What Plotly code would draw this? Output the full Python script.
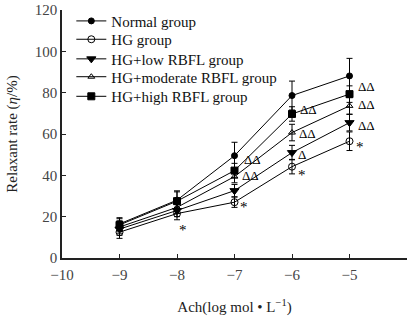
import plotly.graph_objects as go

x_vals = [-9, -8, -7, -6, -5]
series_names = ["Normal group", "HG group", "HG+low RBFL group", "HG+moderate RBFL group", "HG+high RBFL group"]
normal = [16.5, 28.0, 49.5, 78.6, 88.1]
hg = [12.5, 21.5, 27.0, 44.2, 56.5]
low = [14.0, 23.0, 32.6, 51.0, 65.5]
moderate = [15.0, 24.5, 39.4, 60.7, 73.6]
high = [16.0, 27.5, 42.3, 69.7, 79.3]
err_normal = [3.0, 4.5, 6.5, 7.0, 8.5]
err_hg = [3.0, 3.0, 2.5, 3.5, 4.5]
err_low = [3.0, 3.0, 3.0, 3.5, 4.0]
err_moderate = [3.0, 3.0, 3.0, 4.0, 4.0]
err_high = [3.0, 4.5, 3.5, 3.5, 4.0]

star_x = [-7.89, -6.83, -5.82, -4.81]
star_y = [13.5, 24.5, 40.0, 53.5]
tri_x = [-6.69, -6.72, -5.71, -5.73, -5.82, -4.71, -4.71, -4.71]
tri_y = [47.8, 40.0, 71.7, 60.4, 50.2, 83.0, 74.4, 63.9]
tri_text = ["ΔΔ", "ΔΔ", "ΔΔ", "ΔΔ", "Δ", "ΔΔ", "ΔΔ", "ΔΔ"]

x_ticks = [-10, -9, -8, -7, -6, -5, -4]
y_ticks = [0, 20, 40, 60, 80, 100, 120]

FONT = "Liberation Serif, Times New Roman, serif"

styles = [
    dict(symbol="circle", size=6),
    dict(symbol="circle-open", size=7),
    dict(symbol="triangle-down", size=8),
    dict(symbol="triangle-up-open", size=6),
    dict(symbol="square", size=7),
]
data = [normal, hg, low, moderate, high]
errs = [err_normal, err_hg, err_low, err_moderate, err_high]
legend_ids = ["legend", "legend2", "legend3", "legend4", "legend5"]
legend_rows = [0.955, 0.881, 0.802, 0.730, 0.651]

fig = go.Figure()
for name, ys, es, st, lid in zip(series_names, data, errs, styles, legend_ids):
    fig.add_trace(go.Scatter(
        x=x_vals, y=ys, name=name, mode="lines+markers", legend=lid,
        line=dict(color="black", width=1),
        marker=dict(symbol=st["symbol"], size=st["size"], color="black",
                    line=dict(color="black", width=1)),
        error_y=dict(type="data", array=es, visible=True, color="black",
                     thickness=1, width=3),
    ))

for sx, sy in zip(star_x, star_y):
    fig.add_annotation(x=sx, y=sy, text="*", showarrow=False,
                       font=dict(family=FONT, size=15, color="black"))
for tx, ty, tt in zip(tri_x, tri_y, tri_text):
    fig.add_annotation(x=tx, y=ty, text=tt, showarrow=False,
                       font=dict(family=FONT, size=13, color="black"))

legend_layout = {}
for lid, ly in zip(legend_ids, legend_rows):
    legend_layout[lid] = dict(x=0.027, y=ly, xanchor="left", yanchor="middle",
                              bgcolor="rgba(0,0,0,0)",
                              font=dict(family=FONT, size=15, color="#111"),
                              itemwidth=30)

fig.update_layout(
    width=414, height=319,
    margin=dict(l=62, r=7, t=10, b=61, autoexpand=False),
    paper_bgcolor="white", plot_bgcolor="white",
    font=dict(family=FONT, size=15, color="#222"),
    showlegend=True,
    xaxis=dict(range=[-10, -4], tickvals=x_ticks, showgrid=False, zeroline=False,
               showline=True, linecolor="#222", linewidth=1.5,
               ticks="inside", ticklen=4, tickcolor="#222",
               ticklabelstandoff=2,
               tickfont=dict(family=FONT, size=15, color="#444"),
               title=dict(text="Ach(log mol • L<sup>−1</sup>)", standoff=20,
                          font=dict(family=FONT, size=15, color="#222"))),
    yaxis=dict(range=[0, 120], tickvals=y_ticks, showgrid=False, zeroline=False,
               showline=True, linecolor="#222", linewidth=1.5,
               ticks="inside", ticklen=4, tickcolor="#222",
               tickfont=dict(family=FONT, size=15, color="#444"),
               title=dict(text="Relaxant rate (<i>η</i>/%)", standoff=14,
                          font=dict(family=FONT, size=15, color="#222"))),
    **legend_layout,
)

fig.write_html("out.html", config={"displayModeBar": False},
               post_script="document.body.style.margin='0';")
